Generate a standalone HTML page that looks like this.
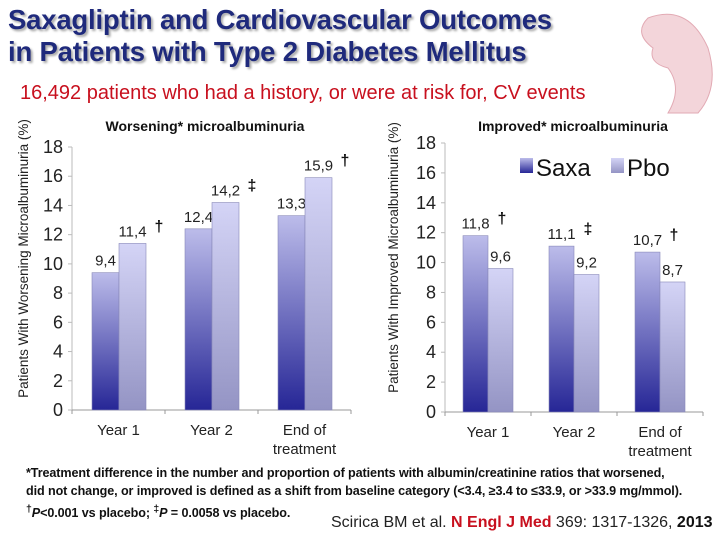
<!DOCTYPE html>
<html><head><meta charset="utf-8"><style>
body{margin:0;width:720px;height:540px;background:#fff;overflow:hidden;font-family:"Liberation Sans",sans-serif;position:relative}
.t{position:absolute;left:8px;top:4px;font-weight:bold;font-size:27.5px;line-height:32px;color:#1f2a7c;text-shadow:2px 2px 2px #aaa;letter-spacing:-0.2px}
.sub{position:absolute;left:20px;top:82px;font-size:20px;color:#c8101e}
.foot{position:absolute;left:26px;top:464px;font-size:12.6px;line-height:18px;font-weight:bold;color:#111;letter-spacing:-0.1px}
.cite{position:absolute;left:331px;top:514px;font-size:16px;color:#222}
.cite b{color:#c8101e}
</style></head><body>
<div class="t">Saxagliptin and Cardiovascular Outcomes<br>in Patients with Type 2 Diabetes Mellitus</div>
<div class="sub">16,492 patients who had a history, or were at risk for, CV events</div>
<svg style="position:absolute;left:628px;top:8px" width="90" height="110"><path d="M20 10 Q60 -5 80 40 Q92 80 70 105 L40 105 Q55 80 40 60 Q20 55 25 40 Q5 25 20 10Z" fill="#f3d5da" stroke="#e2aab4"/></svg>
<svg id="chart" width="720" height="540" style="position:absolute;left:0;top:0">
<defs>
<linearGradient id="gs" x1="0" y1="0" x2="0" y2="1"><stop offset="0" stop-color="#bcbcea"/><stop offset="1" stop-color="#262696"/></linearGradient>
<linearGradient id="gp" x1="0" y1="0" x2="0" y2="1"><stop offset="0" stop-color="#d4d4f6"/><stop offset="1" stop-color="#9494c4"/></linearGradient>
</defs>
</svg>
<div class="foot">*Treatment difference in the number and proportion of patients with albumin/creatinine ratios that worsened,<br>did not change, or improved is defined as a shift from baseline category (&lt;3.4, ≥3.4 to ≤33.9, or &gt;33.9 mg/mmol).<br><sup>†</sup><i>P</i>&lt;0.001 vs placebo; <sup>‡</sup><i>P</i> = 0.0058 vs placebo.</div>
<div class="cite">Scirica BM et al. <b>N Engl J Med</b> 369: 1317-1326, <b style="color:#111">2013</b></div>
<script>
const categories=["Year 1","Year 2","End of|treatment"];
const yTicks=[0,2,4,6,8,10,12,14,16,18];
const worseSaxa=[9.4,12.4,13.3];
const worsePbo=[11.4,14.2,15.9];
const worseMarks=["","",""];const worsePboMarks=["†","‡","†"];
const impSaxa=[11.8,11.1,10.7];
const impPbo=[9.6,9.2,8.7];
const impSaxaMarks=["†","‡","†"];
const svg=document.getElementById('chart');
const NS='http://www.w3.org/2000/svg';
function mk(t,a,txt){const e=document.createElementNS(NS,t);for(const k in a)e.setAttribute(k,a[k]);if(txt!==undefined)e.textContent=txt;svg.appendChild(e);return e;}
function panel(p){
 const y=v=>p.y0-(v/18)*(p.y0-p.y18);
 mk('line',{x1:p.ax,y1:p.y18,x2:p.ax,y2:p.y0,stroke:'#bbb'});
 mk('line',{x1:p.ax,y1:p.y0,x2:p.ax+3*p.cw,y2:p.y0,stroke:'#999'});
 yTicks.forEach(t=>{const e=mk('text',{x:p.ax-9,y:y(t)+6,'text-anchor':'end','font-size':18,fill:'#222'},t);
  mk('line',{x1:p.ax-4,y1:y(t),x2:p.ax,y2:y(t),stroke:'#bbb'});});
 for(let i=0;i<=3;i++)mk('line',{x1:p.ax+i*p.cw,y1:p.y0,x2:p.ax+i*p.cw,y2:p.y0+4,stroke:'#999'});
 categories.forEach((c,i)=>{const cx=p.ax+i*p.cw+p.cw/2;c.split('|').forEach((l,j)=>{const e=mk('text',{x:cx,y:p.y0+25+j*19,'text-anchor':'middle','font-size':15,fill:'#222'},l);});});
 [[p.s,'url(#gs)',p.sm,'saxa'],[p.pb,'url(#gp)',p.pm,'pbo']].forEach(([vals,fill,marks,nm],k)=>{
  vals.forEach((v,i)=>{const x=p.ax+i*p.cw+p.off+k*p.bw;
   const r=mk('rect',{x:x,y:y(v),width:p.bw,height:p.y0-y(v),fill:fill,stroke:'#8888b8','stroke-width':0.6});
   
   const lab=String(v.toFixed(1)).replace('.',',');
   const e=mk('text',{x:x+p.bw/2,y:y(v)-7,'text-anchor':'middle','font-size':15,fill:'#222'},lab);
   
   if(marks[i])mk('text',{x:x+p.bw/2+22,y:y(v)-12,'font-size':16,'font-weight':'bold',fill:'#111'},marks[i]);
  });});
 const tt=mk('text',{x:p.tx,y:131,'text-anchor':'middle','font-size':14,'font-weight':'bold',fill:'#111'},p.title);
 
 const yl=mk('text',{transform:`translate(${p.ylx},${(p.y0+p.y18)/2-20}) rotate(-90)`,'text-anchor':'middle','font-size':13.5,fill:'#222'},p.ylab);
 
}
panel({id:'worsening',ax:72,y0:410,y18:147,cw:93,off:20,bw:27,s:worseSaxa,pb:worsePbo,sm:worseMarks,pm:worsePboMarks,title:'Worsening* microalbuminuria',tx:205,ylx:28,ylab:'Patients With Worsening Microalbuminuria (%)'});
panel({id:'improved',ax:445,y0:412,y18:143,cw:86,off:18,bw:25,s:impSaxa,pb:impPbo,sm:impSaxaMarks,pm:["","",""],title:'Improved* microalbuminuria',tx:573,ylx:398,ylab:'Patients With Improved Microalbuminuria (%)'});
const l1=mk('rect',{x:520,y:158,width:13,height:15,fill:'url(#gs)'});
const t1=mk('text',{x:536,y:176,'font-size':24,fill:'#111'},'Saxa');
const l2=mk('rect',{x:611,y:158,width:13,height:15,fill:'url(#gp)'});
const t2=mk('text',{x:627,y:176,'font-size':24,fill:'#111'},'Pbo');
</script>
</body></html>
